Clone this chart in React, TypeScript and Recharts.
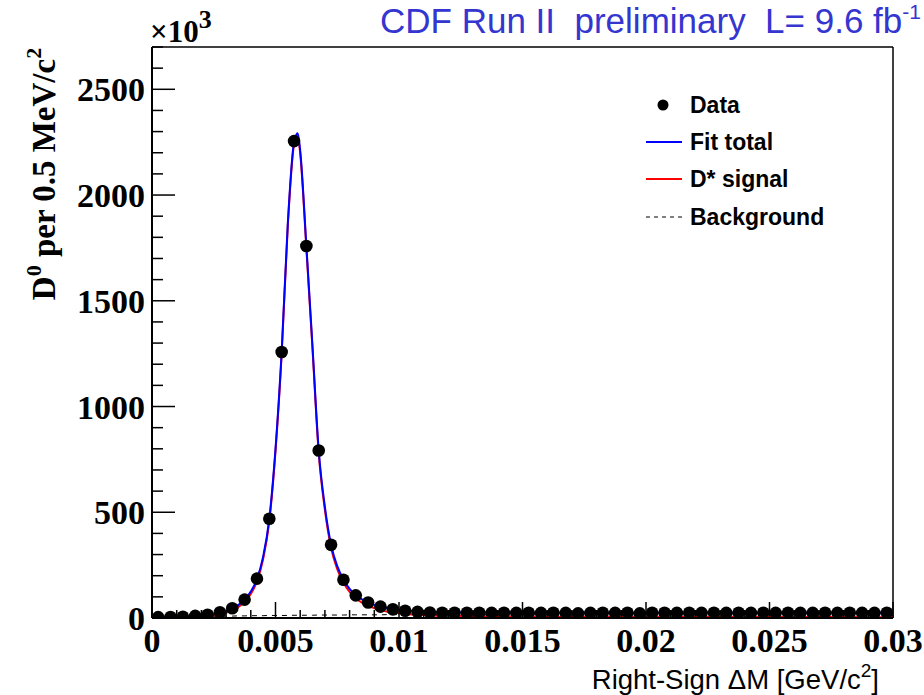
import { ComposedChart, Line, ReferenceLine, Scatter, XAxis, YAxis } from 'recharts';

// bin centres of the 0.5 MeV bins, GeV/c^2
const binCenters = [
  0.00025, 0.00075, 0.00125, 0.00175, 0.00225, 0.00275, 0.00325, 0.00375, 0.00425, 0.00475,
  0.00525, 0.00575, 0.00625, 0.00675, 0.00725, 0.00775, 0.00825, 0.00875, 0.00925, 0.00975,
  0.01025, 0.01075, 0.01125, 0.01175, 0.01225, 0.01275, 0.01325, 0.01375, 0.01425, 0.01475,
  0.01525, 0.01575, 0.01625, 0.01675, 0.01725, 0.01775, 0.01825, 0.01875, 0.01925, 0.01975,
  0.02025, 0.02075, 0.02125, 0.02175, 0.02225, 0.02275, 0.02325, 0.02375, 0.02425, 0.02475,
  0.02525, 0.02575, 0.02625, 0.02675, 0.02725, 0.02775, 0.02825, 0.02875, 0.02925, 0.02975,
];

// entries per bin, x10^3
const dataCounts = [
  4, 5, 6, 10, 15, 27, 46, 87, 186, 469,
  1258, 2255, 1759, 792, 346, 181, 107, 73, 54, 41,
  34, 29, 26, 25, 25, 25, 25, 24, 25, 24,
  25, 24, 25, 24, 22, 24, 25, 24, 25, 22,
  25, 25, 24, 25, 24, 25, 24, 25, 24, 25,
  24, 25, 24, 24, 25, 24, 25, 24, 24, 25,
];

// fit curves, sampled finer than the bins
const fitX = [
  0, 0.00025, 0.0005, 0.00075, 0.001, 0.00125, 0.0015, 0.00175, 0.002, 0.00225,
  0.0025, 0.00275, 0.003, 0.00325, 0.0035, 0.00375, 0.004, 0.00425, 0.0045, 0.00475,
  0.005, 0.00525, 0.0055, 0.00575, 0.0059, 0.006, 0.00625, 0.0065, 0.00675, 0.007,
  0.00725, 0.0075, 0.00775, 0.008, 0.00825, 0.0085, 0.00875, 0.009, 0.00925, 0.0095,
  0.00975, 0.01, 0.01025, 0.0105, 0.01075, 0.011, 0.0115, 0.012, 0.013, 0.014,
  0.015, 0.0175, 0.02, 0.025, 0.03,
];
const fitTotal = [
  0, 3, 4, 5, 6, 7, 8, 10, 12, 15,
  20, 26, 34, 45, 62, 87, 125, 185, 290, 470,
  800, 1260, 1870, 2250, 2292, 2210, 1760, 1280, 792, 525,
  346, 245, 182, 138, 108, 88, 73, 62, 54, 47,
  42, 38, 35, 33, 31, 30, 28, 27, 26, 26,
  25, 25, 25, 25, 25,
];
const fitSignal = [
  0, 1, 1, 1, 1, 2, 2, 4, 5, 8,
  12, 18, 25, 36, 52, 77, 114, 174, 279, 458,
  788, 1248, 1858, 2237, 2279, 2197, 1747, 1267, 778, 511,
  332, 231, 168, 123, 93, 73, 58, 47, 39, 31,
  26, 22, 19, 17, 15, 14, 11, 10, 9, 8,
  7, 6, 6, 5, 4,
];
const fitBkg = [
  0, 2, 3, 4, 5, 5, 6, 6, 7, 7,
  8, 8, 9, 9, 10, 10, 11, 11, 11, 12,
  12, 12, 12, 13, 13, 13, 13, 13, 14, 14,
  14, 14, 14, 15, 15, 15, 15, 15, 15, 16,
  16, 16, 16, 16, 16, 16, 17, 17, 17, 18,
  18, 19, 19, 20, 21,
];

const yTicks = [
  0, 100, 200, 300, 400, 500, 600, 700, 800, 900, 1000, 1100, 1200, 1300,
  1400, 1500, 1600, 1700, 1800, 1900, 2000, 2100, 2200, 2300, 2400, 2500, 2600, 2700,
];
const xTicks = [
  0, 0.001, 0.002, 0.003, 0.004, 0.005, 0.006, 0.007, 0.008, 0.009, 0.01,
  0.011, 0.012, 0.013, 0.014, 0.015, 0.016, 0.017, 0.018, 0.019, 0.02,
  0.021, 0.022, 0.023, 0.024, 0.025, 0.026, 0.027, 0.028, 0.029, 0.03,
];
const xTickLabels = ['0', '0.005', '0.01', '0.015', '0.02', '0.025', '0.03'];

const points = binCenters.map((x, i) => ({ x, y: dataCounts[i] }));
const totalLine = fitX.map((x, i) => ({ x, y: fitTotal[i] }));
const signalLine = fitX.map((x, i) => ({ x, y: fitSignal[i] }));
const bkgLine = fitX.map((x, i) => ({ x, y: fitBkg[i] }));

const SERIF = '"Liberation Serif", "Times New Roman", serif';
const SANS = '"Liberation Sans", Arial, sans-serif';

function YTick(props: any) {
  const { x, y, payload } = props;
  const major = payload.value % 500 === 0;
  return (
    <g>
      <line x1={x} x2={x + (major ? 23 : 11)} y1={y} y2={y} stroke="#000" strokeWidth={1.5} />
      {major && (
        <text x={x - 7} y={y + 12} textAnchor="end" fontFamily={SERIF} fontWeight="bold" fontSize={34} fill="#000">
          {payload.value}
        </text>
      )}
    </g>
  );
}

function XTick(props: any) {
  const { x, y, index } = props;
  const major = index % 5 === 0;
  return (
    <g>
      <line x1={x} x2={x} y1={y} y2={y - (major ? 16 : 8)} stroke="#000" strokeWidth={1.5} />
      {major && (
        <text x={x} y={y + 34} textAnchor="middle" fontFamily={SERIF} fontWeight="bold" fontSize={34} fill="#000">
          {xTickLabels[index / 5]}
        </text>
      )}
    </g>
  );
}

function Dot(props: any) {
  return <circle cx={props.cx} cy={props.cy} r={6.3} fill="#000" />;
}

export default function App() {
  return (
    <div style={{ position: 'absolute', left: 0, top: 0, width: 924, height: 695, background: '#fff' }}>
      <ComposedChart width={924} height={695} margin={{ top: 47, right: 31, bottom: 0, left: 0 }}>
        <XAxis
          dataKey="x"
          type="number"
          domain={[0, 0.03]}
          ticks={xTicks}
          interval={0}
          allowDataOverflow
          height={77}
          tickSize={0}
          tickMargin={0}
          tick={<XTick />}
          axisLine={{ stroke: '#000', strokeWidth: 2 }}
        />
        <YAxis
          dataKey="y"
          type="number"
          domain={[0, 2700]}
          ticks={yTicks}
          interval={0}
          allowDataOverflow
          width={152}
          tickSize={0}
          tickMargin={0}
          tick={<YTick />}
          axisLine={{ stroke: '#000', strokeWidth: 2 }}
        />
        <ReferenceLine y={2700} stroke="#000" strokeWidth={1.5} />
        <ReferenceLine x={0.03} stroke="#000" strokeWidth={1.5} />
        <Line data={bkgLine} dataKey="y" type="monotone" stroke="#000" strokeWidth={1} strokeDasharray="5 5" dot={false} isAnimationActive={false} />
        <Line data={signalLine} dataKey="y" type="monotone" stroke="#ff0000" strokeWidth={2} dot={false} isAnimationActive={false} />
        <Line data={totalLine} dataKey="y" type="monotone" stroke="#0000ff" strokeWidth={2} dot={false} isAnimationActive={false} />
        <Scatter data={points} dataKey="y" shape={<Dot />} isAnimationActive={false} />
      </ComposedChart>

      <svg width={924} height={695} style={{ position: 'absolute', left: 0, top: 0, pointerEvents: 'none' }}>
        <text x={921} y={33} textAnchor="end" fontFamily={SANS} fontSize={35} fill="#3535d0" style={{ whiteSpace: 'pre' }}>
          CDF Run II  preliminary  L= 9.6 fb<tspan dy={-14} fontSize={21}>-1</tspan>
        </text>
        <text x={150} y={42} fontFamily={SERIF} fontWeight="bold" fontSize={31} fill="#000">
          ×10<tspan dy={-14} fontSize={26}>3</tspan>
        </text>
        <text
          transform="translate(55,174) rotate(-90)"
          textAnchor="middle"
          fontFamily={SERIF}
          fontWeight="bold"
          fontSize={33}
          fill="#000"
        >
          D<tspan dy={-14} fontSize={22}>0</tspan>
          <tspan dy={14}> per 0.5 MeV/c</tspan>
          <tspan dy={-14} fontSize={22}>2</tspan>
        </text>
        <text x={879} y={689} textAnchor="end" fontFamily={SANS} fontSize={27.5} fill="#000">
          Right-Sign ΔM [GeV/c<tspan dy={-12} fontSize={19}>2</tspan>
          <tspan dy={12}>]</tspan>
        </text>

        <g fontFamily={SANS} fontWeight="bold" fontSize={23} fill="#000">
          <circle cx={663} cy={105} r={5.5} fill="#000" />
          <text x={690} y={113}>Data</text>
          <line x1={646} x2={682} y1={142} y2={142} stroke="#0000ff" strokeWidth={2} />
          <text x={690} y={150}>Fit total</text>
          <line x1={646} x2={682} y1={179} y2={179} stroke="#ff0000" strokeWidth={2} />
          <text x={690} y={187}>D* signal</text>
          <line x1={646} x2={682} y1={217} y2={217} stroke="#000" strokeWidth={1} strokeDasharray="4 4" />
          <text x={690} y={225}>Background</text>
        </g>
      </svg>
    </div>
  );
}
